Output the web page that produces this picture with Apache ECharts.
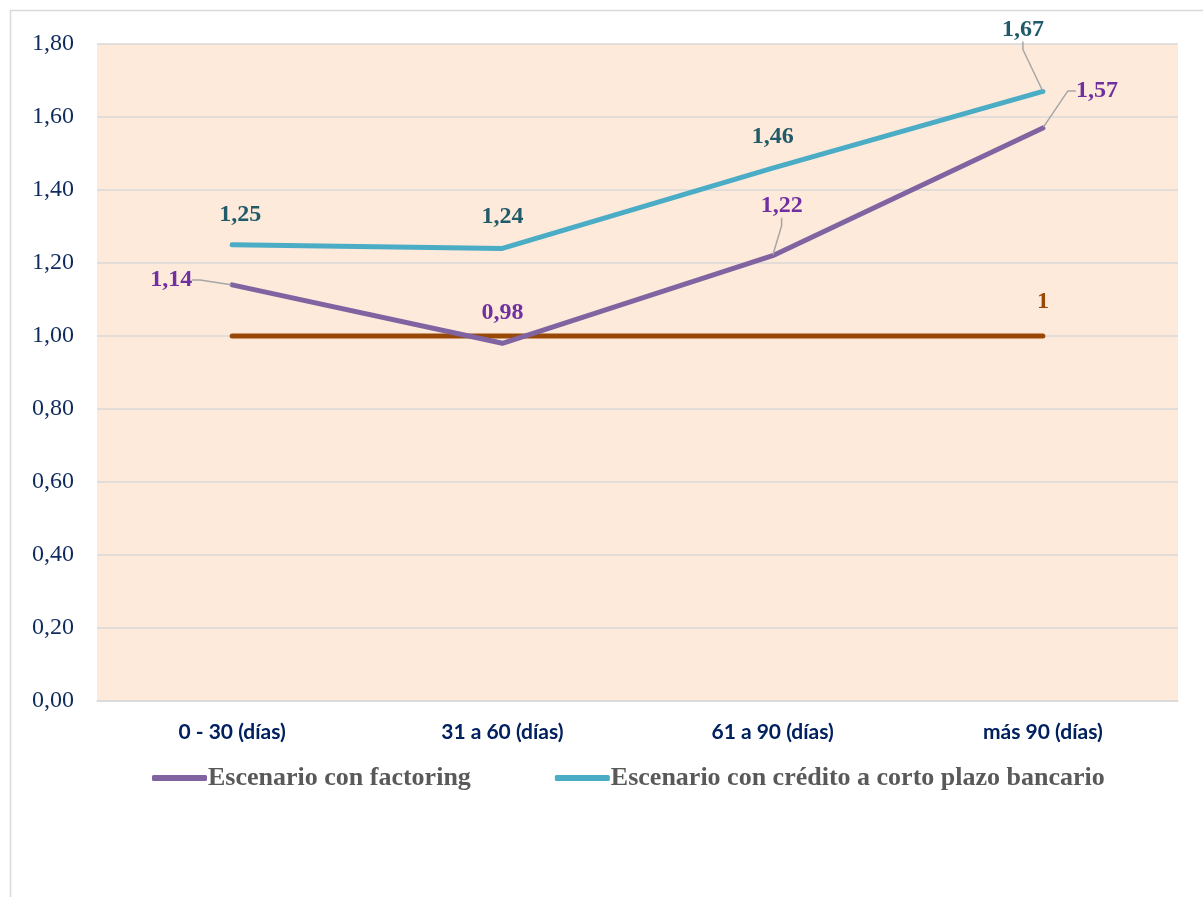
<!DOCTYPE html>
<html>
<head>
<meta charset="utf-8">
<script src="https://cdn.jsdelivr.net/npm/echarts@6/dist/echarts.min.js"></script>
<style>
  html, body { margin: 0; padding: 0; background: #fff; }
  #chart { width: 1203px; height: 897px; }
</style>
</head>
<body>
<div id="chart"></div>
<script>
const categories = ['0 - 30 (días)', '31 a 60 (días)', '61 a 90 (días)', 'más 90 (días)']
const factoring = [1.14, 0.98, 1.22, 1.57]
const credito = [1.25, 1.24, 1.46, 1.67]
const base = [1, 1, 1, 1]
const yTicks = { min: 0, max: 1.8, interval: 0.2 }

// desplazamiento de cada etiqueta respecto a su punto (px) y si lleva guía
const labelShift = [
  [[-61, -5, true], [0, -31], [9, -50, true], [54, -37, true]],   // factoring
  [[8, -30], [0, -32], [0, -31], [-20, -62, true]],                // crédito
  [null, null, null, [0, -34]]                                     // base
]

const fmt = v => v.toFixed(2).replace('.', ',')

function buildData(values, s) {
  return values.map((v, i) => {
    let sh = labelShift[s][i]
    return {
      value: v,
      label: { show: !!sh },
      labelLine: { show: !!(sh && sh[2]) }
    }
  })
}

function placeLabel(params) {
  let sh = labelShift[params.seriesIndex][params.dataIndex]
  if (!sh) return {}
  let cx = params.rect.x + params.rect.width / 2
  let cy = params.rect.y + params.rect.height / 2
  return { x: cx + sh[0], y: cy + sh[1], align: 'center', verticalAlign: 'middle' }
}

const labelFont = { fontFamily: '"Liberation Serif", "Times New Roman", serif', fontWeight: 'bold', fontSize: 24 }
const guide = { length2: 8, minTurnAngle: 0, lineStyle: { color: '#A6A6A6', width: 1.5 } }

let chart = echarts.init(document.getElementById('chart'), null, { renderer: 'canvas' })
let option = {
  animation: false,
  backgroundColor: '#fff',
  graphic: [{
    type: 'rect',
    shape: { x: 10.5, y: 10.5, width: 1200, height: 900 },
    style: { fill: 'none', stroke: '#D9D9D9', lineWidth: 1.5 },
    silent: true
  }],
  grid: {
    left: 97, top: 44, right: 25, bottom: 196,
    show: true, backgroundColor: '#FDEADA', borderWidth: 0
  },
  legend: {
    data: ['Escenario con factoring', 'Escenario con crédito a corto plazo bancario'],
    left: 147, top: 760,
    icon: 'roundRect',
    itemWidth: 55, itemHeight: 6, itemGap: 84,
    textStyle: { fontFamily: '"Liberation Serif", "Times New Roman", serif', fontWeight: 'bold', fontSize: 26, color: '#595959', padding: [0, 0, 0, -4] }
  },
  xAxis: {
    type: 'category',
    data: categories,
    boundaryGap: true,
    axisLine: { lineStyle: { color: '#D9D9D9', width: 1.5 } },
    axisTick: { show: false },
    axisLabel: { margin: 21, color: '#002060', fontFamily: 'Lato, "Liberation Sans", sans-serif', fontWeight: 'bold', fontSize: 21 }
  },
  yAxis: {
    type: 'value',
    min: yTicks.min, max: yTicks.max, interval: yTicks.interval,
    axisLine: { show: false },
    axisTick: { show: false },
    splitLine: { lineStyle: { color: '#D9D9D9', width: 1.5 } },
    axisLabel: { margin: 23, color: '#0F2A5C', fontFamily: '"Liberation Serif", "Times New Roman", serif', fontSize: 24, formatter: v => fmt(v) }
  },
  series: [
    {
      name: 'Escenario con factoring',
      type: 'line',
      data: buildData(factoring, 0),
      symbol: 'circle', symbolSize: 2,
      itemStyle: { color: '#8064A2' },
      lineStyle: { color: '#8064A2', width: 5, cap: 'round' },
      label: Object.assign({ show: true, position: 'top', color: '#7030A0', formatter: p => fmt(p.value) }, labelFont),
      labelLine: guide,
      labelLayout: placeLabel,
      z: 3
    },
    {
      name: 'Escenario con crédito a corto plazo bancario',
      type: 'line',
      data: buildData(credito, 1),
      symbol: 'circle', symbolSize: 2,
      itemStyle: { color: '#4BACC6' },
      lineStyle: { color: '#4BACC6', width: 5, cap: 'round' },
      label: Object.assign({ show: true, position: 'top', color: '#215A69', formatter: p => fmt(p.value) }, labelFont),
      labelLine: guide,
      labelLayout: placeLabel,
      z: 3
    },
    {
      name: 'Base',
      type: 'line',
      data: buildData(base, 2),
      symbol: 'circle', symbolSize: 2,
      itemStyle: { color: '#984807' },
      lineStyle: { color: '#984807', width: 5, cap: 'round' },
      label: Object.assign({ position: 'top', color: '#984807', formatter: p => String(p.value) }, labelFont),
      labelLayout: placeLabel,
      z: 2
    }
  ]
}
chart.setOption(option)
</script>
</body>
</html>
